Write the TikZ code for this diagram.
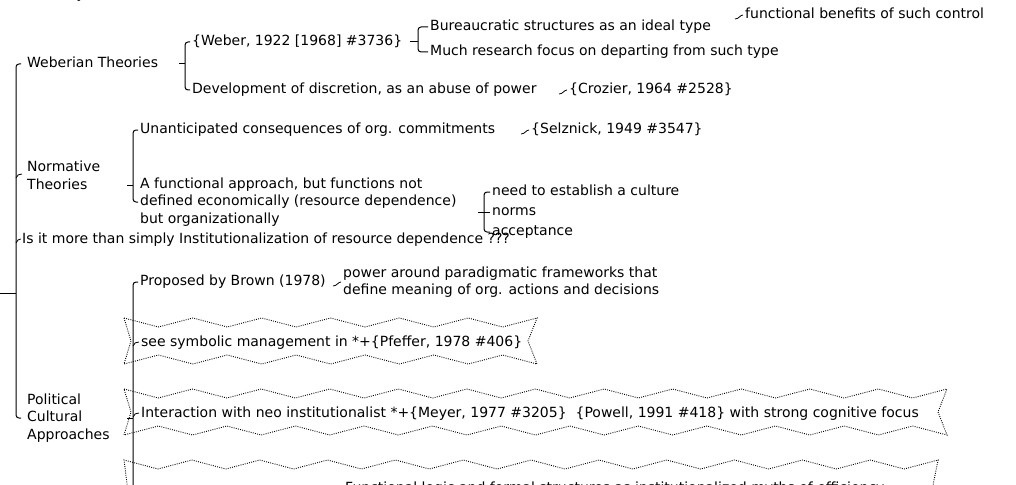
\documentclass[tikz,border=0pt]{standalone}
\usepackage{fontspec}
\setmainfont{DejaVu Sans}
\usetikzlibrary{calc}
\begin{document}
\begin{tikzpicture}[x=1pt,y=-1pt,
  lbl/.style={font=\fontsize{14}{17}\selectfont, inner sep=0pt, anchor=west, text height=10pt, text depth=3pt, yshift=-2pt},
  mlbl/.style={font=\fontsize{14}{17.7}\selectfont, inner sep=0pt, anchor=west, align=left, yshift=-2pt},
  ln/.style={line width=1pt, rounded corners=3pt},
  tk/.style={line width=0.8pt},
  wave/.style={line width=0.9pt, dash pattern=on 0.9pt off 1.3pt}]
\useasboundingbox (0,0) rectangle (1016,484);
\clip (0,0) rectangle (1016,484);

% ---------- nodes ----------
\node[lbl] (top) at (17,-7) {Hierarchy, Less from Informal};
\node[lbl] (wt) at (27,62) {Weberian Theories};
\node[lbl] (weber) at (192,40) {\{Weber, 1922 [1968] \#3736\}};
\node[lbl] (dev) at (192,88) {Development of discretion, as an abuse of power};
\node[lbl] (bur) at (430,25) {Bureaucratic structures as an ideal type};
\node[lbl] (much) at (430,50) {Much research focus on departing from such type};
\node[lbl] (fb) at (745,13) {functional benefits of such control};
\node[lbl] (croz) at (569,88) {\{Crozier, 1964 \#2528\}};
\node[mlbl] (nt) at (27,173) {Normative\\Theories};
\node[lbl] (un) at (140,128) {Unanticipated consequences of org. commitments};
\node[mlbl] (fa) at (140,200) {A functional approach, but functions not\\defined economically (resource dependence)\\but organizationally};
\node[lbl] (sel) at (531,128) {\{Selznick, 1949 \#3547\}};
\node[lbl] (cul) at (492,190) {need to establish a culture};
\node[lbl] (norms) at (492,210) {norms};
\node[lbl] (acc) at (492,230) {acceptance};
\node[lbl] (is) at (22,238) {Is it more than simply Institutionalization of resource dependence ???};
\node[mlbl] (pca) at (27,416) {Political\\Cultural\\Approaches};
\node[lbl] (brown) at (140,280) {Proposed by Brown (1978)};
\node[mlbl] (pow) at (343,280) {power around paradigmatic frameworks that\\define meaning of org. actions and decisions};
\node[lbl] (sym) at (141,341) {see symbolic management in *+\{Pfeffer, 1978 \#406\}};
\node[lbl] (int) at (141,412) {Interaction with neo institutionalist *+\{Meyer, 1977 \#3205\}\ \ \{Powell, 1991 \#418\} with strong cognitive focus};
\node[lbl] (fn) at (345,487) {Functional logic and formal structures as institutionalized myths of efficiency};

% ---------- wavy boxes ----------
\draw[wave] (124,318) \foreach \k in {1,...,12} { -- ({124+\k*34.42},{mod(\k,2)==0 ? 318 : 327}) }
  -- (528,341) -- (537,364)
  \foreach \k in {11,...,0} { -- ({124+\k*34.42},{mod(\k,2)==0 ? 364 : 355}) }
  -- (131,341) -- cycle;
\draw[wave] (124,389) \foreach \k in {1,...,24} { -- ({124+\k*34.29},{mod(\k,2)==0 ? 389 : 398}) }
  -- (938,412) -- (947,435)
  \foreach \k in {23,...,0} { -- ({124+\k*34.29},{mod(\k,2)==0 ? 435 : 426}) }
  -- (131,412) -- cycle;
\draw[wave] (131,515) -- (124,460) \foreach \k in {1,...,24} { -- ({124+\k*33.92},{mod(\k,2)==0 ? 460 : 469}) }
  -- (927,515);

% ---------- connectors ----------
\coordinate (root) at (0,293);
\draw[ln] ([xshift=-6pt]wt.west) -| ([xshift=-11pt]pca.west) -- ([xshift=-6pt]pca.west);
\draw[ln] (root) -- ($(root -| pca.west)+(-11,0)$);
\draw[tk] ($(nt.west)+(-11,3)$) .. controls ($(nt.west)+(-10,0)$) and ($(nt.west)+(-8,-1)$) .. ($(nt.west)+(-5,-1)$);
\draw[tk] ($(is.west)+(-6,3)$) .. controls ($(is.west)+(-5,0)$) and ($(is.west)+(-3,-1)$) .. ($(is.west)+(-1,-1)$);

% Weberian brace
\draw[ln] ([xshift=-2pt]weber.west) -| ([xshift=-7pt]dev.west) -- ([xshift=-2pt]dev.west);
\draw[ln] ($(weber.west |- wt.east)+(-13,0)$) -- ($(weber.west |- wt.east)+(-7,0)$);
% Weber brace
\draw[ln] ([xshift=-2pt]bur.west) -| ([xshift=-12pt]much.west) -- ([xshift=-2pt]much.west);
\draw[ln] ($(bur.west |- weber.east)+(-20,0)$) -- ($(bur.west |- weber.east)+(-12,0)$);
% side ticks
\draw[tk] ($(fb.west)+(-10,4)$) .. controls ($(fb.west)+(-6,4)$) and ($(fb.west)+(-5,0)$) .. ($(fb.west)+(-2,0)$);
\draw[tk] ($(croz.west)+(-10,4)$) .. controls ($(croz.west)+(-6,4)$) and ($(croz.west)+(-5,0)$) .. ($(croz.west)+(-2,0)$);
\draw[tk] ($(sel.west)+(-10,4)$) .. controls ($(sel.west)+(-6,4)$) and ($(sel.west)+(-5,0)$) .. ($(sel.west)+(-2,0)$);
\draw[tk] ($(pow.west)+(-10,4)$) .. controls ($(pow.west)+(-6,4)$) and ($(pow.west)+(-5,0)$) .. ($(pow.west)+(-2,0)$);

% Normative brace
\coordinate (nstub) at (127,185);
\draw[ln] ([xshift=-2pt]un.west) -| ([xshift=-7pt]fa.west) -- ([xshift=-2pt]fa.west);
\draw[ln] (nstub) -- ($(nstub -| un.west)+(-7,0)$);
% culture brace
\draw[ln] ([xshift=-2pt]cul.west) -| ([xshift=-8pt]acc.west) -- ([xshift=-2pt]acc.west);
\draw[ln] ([xshift=-14pt]norms.west) -- ([xshift=-2pt]norms.west);

% Political brace
\coordinate (pbot) at (133,490);
\draw[ln] ([xshift=-2pt]brown.west) -| (pbot);
\draw[ln] ($(brown.west |- pca.east)+(-13,0)$) -- ($(brown.west |- pca.east)+(-7,0)$);
\draw[tk] ($(sym.west)+(-8,3)$) .. controls ($(sym.west)+(-7,0)$) and ($(sym.west)+(-5,-1)$) .. ($(sym.west)+(-2,-1)$);
\draw[tk] ($(int.west)+(-8,3)$) .. controls ($(int.west)+(-7,0)$) and ($(int.west)+(-5,-1)$) .. ($(int.west)+(-2,-1)$);
\end{tikzpicture}
\end{document}
